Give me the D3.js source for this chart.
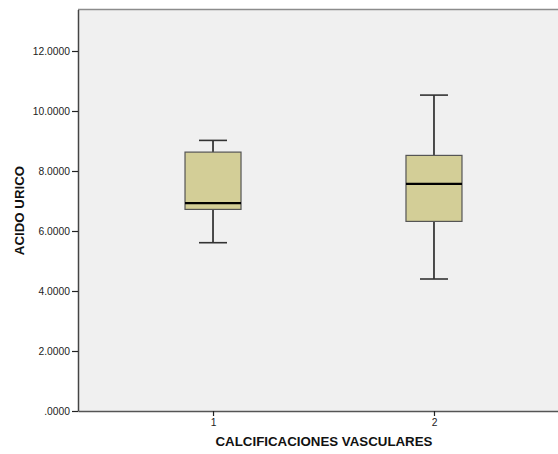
<!DOCTYPE html>
<html><head><meta charset="utf-8">
<script src="https://cdn.jsdelivr.net/npm/d3@7"></script>
<style>body{margin:0;background:#fff}svg{display:block}</style>
</head><body>
<script>
const categories = ["1", "2"];
const whiskerLow = [5.61, 4.40];
const q1 = [6.72, 6.32];
const median = [6.93, 7.57];
const q3 = [8.63, 8.52];
const whiskerHigh = [9.02, 10.53];
const yTicks = [0, 2, 4, 6, 8, 10, 12];

(function () {
const W = 558, H = 454;
const svg = d3.select("body").append("svg").attr("width", W).attr("height", H);
const pLeft = 78, pTop = 9.5, pBottom = 411, pRight = 569;

const x = d3.scalePoint().domain(categories).range([pLeft, pRight]).padding(0.611);
const y = d3.scaleLinear().domain([0, (pBottom - pTop) / 30]).range([pBottom, pTop]);

svg.append("rect").attr("x", pLeft).attr("y", pTop).attr("width", pRight - pLeft).attr("height", pBottom - pTop).attr("fill", "#f0f0f0");
svg.append("line").attr("x1", pLeft).attr("x2", pRight).attr("y1", pTop).attr("y2", pTop).attr("stroke", "#8c8c8c").attr("stroke-width", 1.5);

const data = categories.map((c, i) => ({c, lo: whiskerLow[i], q1: q1[i], med: median[i], q3: q3[i], hi: whiskerHigh[i]}));
const bw = 56, cw = 28;
const g = svg.append("g");
data.forEach(d => {
  const cx = x(d.c);
  g.append("line").attr("x1", cx).attr("x2", cx).attr("y1", y(d.hi)).attr("y2", y(d.q3)).attr("stroke", "#222").attr("stroke-width", 1.6);
  g.append("line").attr("x1", cx).attr("x2", cx).attr("y1", y(d.q1)).attr("y2", y(d.lo)).attr("stroke", "#222").attr("stroke-width", 1.6);
  g.append("line").attr("x1", cx - cw/2).attr("x2", cx + cw/2).attr("y1", y(d.hi)).attr("y2", y(d.hi)).attr("stroke", "#333").attr("stroke-width", 1.6);
  g.append("line").attr("x1", cx - cw/2).attr("x2", cx + cw/2).attr("y1", y(d.lo)).attr("y2", y(d.lo)).attr("stroke", "#333").attr("stroke-width", 1.6);
  g.append("rect").attr("x", cx - bw/2).attr("y", y(d.q3)).attr("width", bw).attr("height", y(d.q1) - y(d.q3)).attr("fill", "#d3ce97").attr("stroke", "#555").attr("stroke-width", 1.2);
  g.append("line").attr("x1", cx - bw/2).attr("x2", cx + bw/2).attr("y1", y(d.med)).attr("y2", y(d.med)).attr("stroke", "#000").attr("stroke-width", 2.2);
});

const fmt = v => v === 0 ? ".0000" : d3.format(".4f")(v);
const yAxis = svg.append("g").attr("transform", `translate(${pLeft},0)`)
  .call(d3.axisLeft(y).tickValues(yTicks).tickFormat(fmt).tickSize(6).tickSizeOuter(0).tickPadding(2));
yAxis.select(".domain").attr("stroke", "#444").attr("stroke-width", 1.5);
yAxis.selectAll(".tick line").attr("stroke", "#222").attr("stroke-width", 1.2);
yAxis.selectAll("text").attr("font-family", "Liberation Sans, Arial, sans-serif").attr("font-size", 10.3).attr("fill", "#222");

const xAxis = svg.append("g").attr("transform", `translate(0,${pBottom})`)
  .call(d3.axisBottom(x).tickSize(5).tickPadding(3).tickSizeOuter(0));
xAxis.select(".domain").attr("stroke", "#555").attr("stroke-width", 1.5);
xAxis.selectAll(".tick line").attr("stroke", "#222").attr("stroke-width", 1.2);
xAxis.selectAll("text").attr("font-family", "Liberation Sans, Arial, sans-serif").attr("font-size", 10.3).attr("fill", "#222");

svg.append("text").attr("x", 324).attr("y", 446).attr("text-anchor", "middle")
  .attr("font-family", "Liberation Sans, Arial, sans-serif").attr("font-weight", "bold").attr("font-size", 13.3).attr("fill", "#111")
  .text("CALCIFICACIONES VASCULARES");
svg.append("text").attr("transform", "translate(24,210.5) rotate(-90)").attr("text-anchor", "middle")
  .attr("font-family", "Liberation Sans, Arial, sans-serif").attr("font-weight", "bold").attr("font-size", 13.3).attr("fill", "#111")
  .text("ACIDO URICO");
})();
</script>
</body></html>
